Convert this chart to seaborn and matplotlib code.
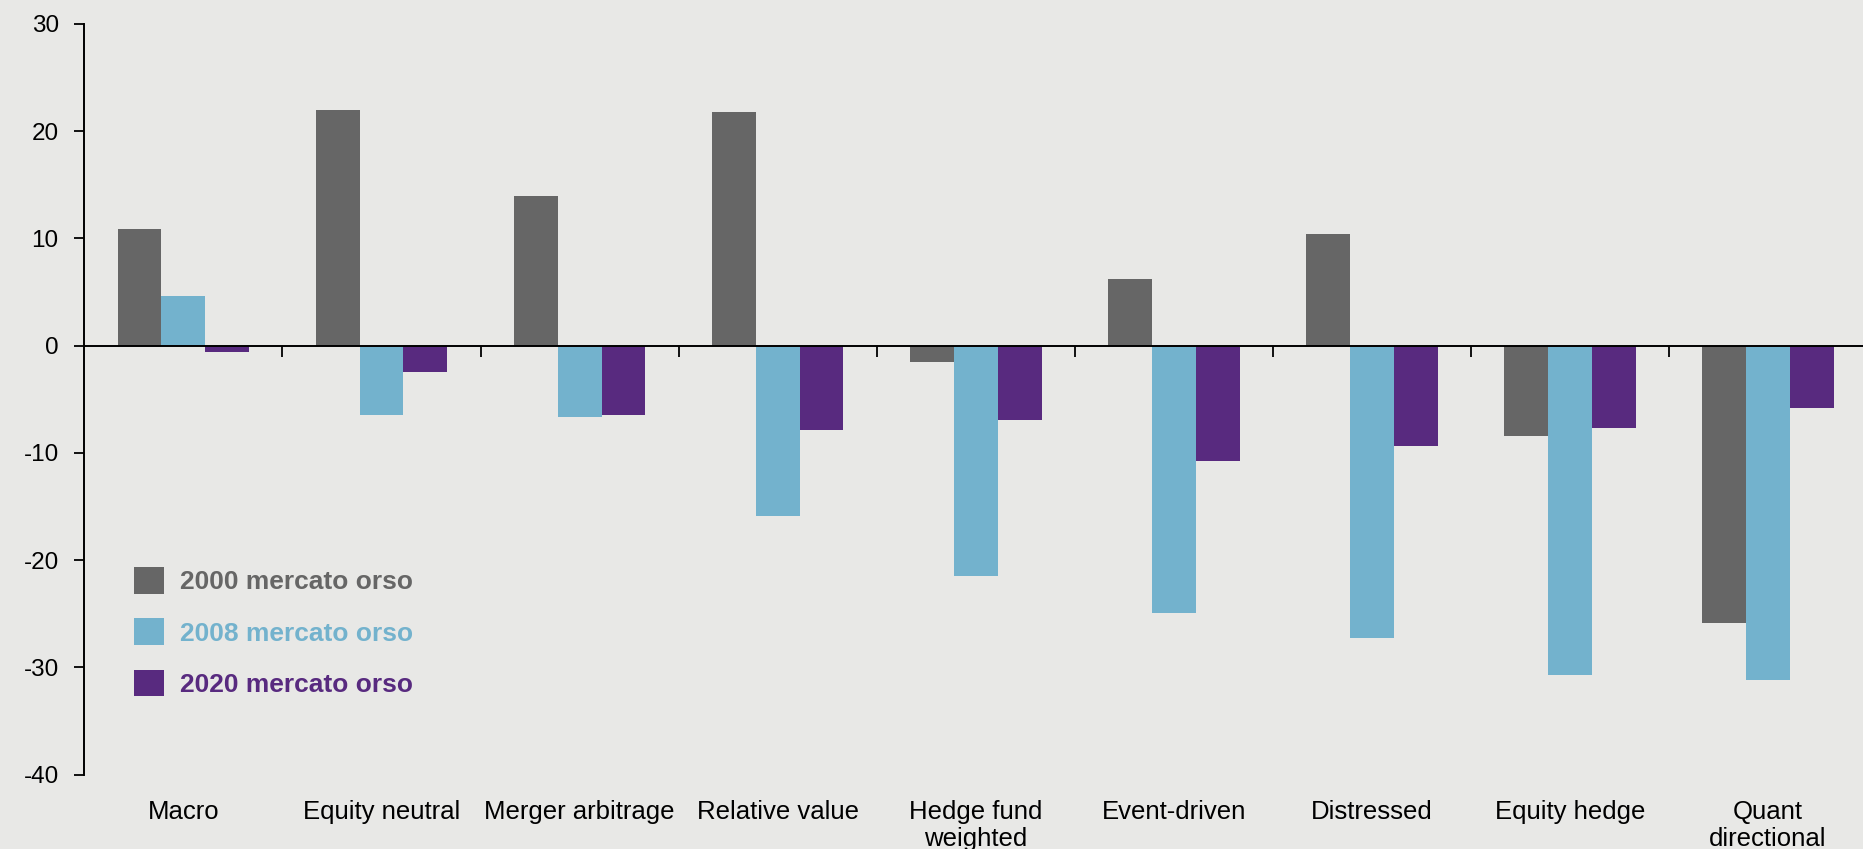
import matplotlib
matplotlib.use("Agg")
import matplotlib.pyplot as plt
import matplotlib.patches as mpatches
import seaborn as sns
import pandas as pd

# Hedge fund strategy returns during three bear markets (%)
categories = ["Macro", "Equity neutral", "Merger arbitrage", "Relative value",
              "Hedge fund\nweighted", "Event-driven", "Distressed",
              "Equity hedge", "Quant\ndirectional"]
series = ["2000 mercato orso", "2008 mercato orso", "2020 mercato orso"]
bear_2000 = [10.9, 22.0, 13.9, 21.8, -1.5, 6.2, 10.4, -8.4, -25.9]
bear_2008 = [4.6, -6.5, -6.7, -15.9, -21.5, -24.9, -27.3, -30.7, -31.2]
bear_2020 = [-0.6, -2.5, -6.5, -7.9, -6.9, -10.8, -9.4, -7.7, -5.8]
y_ticks = [-40, -30, -20, -10, 0, 10, 20, 30]

colors = ["#666666", "#73B2CD", "#582A7F"]
bg = "#E8E8E6"

df = pd.DataFrame({
    "category": categories * 3,
    "series": [series[0]] * 9 + [series[1]] * 9 + [series[2]] * 9,
    "value": bear_2000 + bear_2008 + bear_2020,
})

sns.set_theme(style="white")
plt.rcParams["font.family"] = ["Liberation Sans", "DejaVu Sans"]

fig = plt.figure(figsize=(18.63, 8.49), dpi=100, facecolor=bg)
ax = fig.add_axes([84.4 / 1863, 1 - 774.6 / 849, (1867 - 84.4) / 1863, (774.6 - 23.8) / 849])
ax.set_facecolor(bg)

sns.barplot(data=df, x="category", y="value", hue="series", order=categories,
            hue_order=series, palette=colors, saturation=1, width=0.665,
            gap=0, errorbar=None, linewidth=0, legend=False, ax=ax)

ax.set_xlim(-0.5, len(categories) - 0.5)
ax.set_ylim(-40, 30)
ax.set_xlabel("")
ax.set_ylabel("")

# y axis
ax.set_yticks(y_ticks)
ax.set_yticklabels([str(v) for v in y_ticks])
ax.tick_params(axis="y", direction="out", length=7, width=1.3, color="black",
               pad=11.5, labelsize=17.5, labelcolor="black", left=True)

# zero line carries the category separators
for s in ["top", "right"]:
    ax.spines[s].set_visible(False)
ax.spines["left"].set_color("black")
ax.spines["left"].set_linewidth(1.4)
ax.spines["bottom"].set_position(("data", 0))
ax.spines["bottom"].set_color("black")
ax.spines["bottom"].set_linewidth(1.4)
bounds = [i + 0.5 for i in range(len(categories) - 1)]
ax.set_xticks(bounds)
ax.set_xticklabels([""] * len(bounds))
ax.tick_params(axis="x", direction="out", length=8, width=1.3, color="black", bottom=True)

# category labels along the bottom of the plot area
sec = ax.secondary_xaxis(0)
sec.set_xticks(range(len(categories)))
sec.set_xticklabels(categories, fontsize=18.5, color="black", linespacing=1.2)
sec.tick_params(axis="x", length=0, pad=18)
sec.spines["bottom"].set_visible(False)

# legend
handles = [mpatches.Patch(facecolor=c, edgecolor="none", label=l) for c, l in zip(colors, series)]
leg = ax.legend(handles=handles, loc="upper left",
                bbox_to_anchor=(134 / 1863, 1 - 567 / 849), bbox_transform=fig.transFigure,
                frameon=False, borderpad=0, borderaxespad=0,
                handlelength=1.14, handleheight=1.17, handletextpad=0.6,
                labelspacing=0.92, prop={"size": 19, "weight": "bold"})
for txt, c in zip(leg.get_texts(), colors):
    txt.set_color(c)

fig.savefig("out.png", dpi=100, facecolor=bg)
